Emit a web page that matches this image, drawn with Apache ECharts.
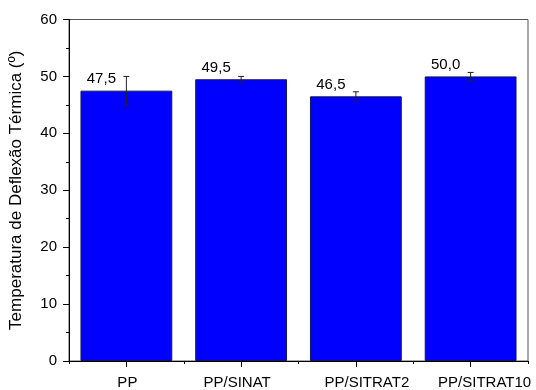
<!DOCTYPE html>
<html>
<head>
<meta charset="utf-8">
<script src="https://cdn.jsdelivr.net/npm/echarts@6/dist/echarts.min.js"></script>
<style>
  html, body { margin: 0; padding: 0; background: #fff; }
  #chart { width: 536px; height: 390px; }
</style>
</head>
<body>
<div id="chart"></div>
<script>
// Heat deflection temperature per formulation
const categories = ['PP', 'PP/SINAT', 'PP/SITRAT2', 'PP/SITRAT10'];
const hdtValues = [47.5, 49.5, 46.5, 50.0];
const hdtErrors = [2.5, 0.5, 0.8, 0.7];
const yTicks = [0, 10, 20, 30, 40, 50, 60];
// horizontal nudges of the category captions (px, right positive)
const labelShift = [1, -4, 11, 14];

const FONT = 'Liberation Sans, Arial, sans-serif';
const fmt = v => v.toFixed(1).replace('.', ',');

const chart = echarts.init(document.getElementById('chart'), null, { renderer: 'canvas' });

const errorData = hdtValues.map((v, i) => [i, v - hdtErrors[i], v + hdtErrors[i]]);
const categoryItems = categories.map((c, i) => ({
  value: c,
  textStyle: {
    padding: labelShift[i] >= 0 ? [0, 0, 0, 2 * labelShift[i]] : [0, -2 * labelShift[i], 0, 0]
  }
}));

chart.setOption({
  animation: false,
  backgroundColor: '#fff',
  grid: {
    left: 68, right: 8, top: 19.5, bottom: 29,
    show: true, borderColor: '#555', borderWidth: 1
  },
  xAxis: [{
    type: 'category',
    data: categoryItems,
    axisLine: { lineStyle: { color: '#000', width: 1 } },
    axisTick: { show: true, length: 3, interval: 0, lineStyle: { color: '#000' } },
    axisLabel: { color: '#000', fontFamily: FONT, fontSize: 15, margin: 14, interval: 0 }
  }, {
    type: 'category',
    data: categories,
    position: 'bottom',
    axisLine: { show: false },
    axisTick: { show: true, alignWithLabel: true, length: 6, lineStyle: { color: '#000' } },
    axisLabel: { show: false }
  }],
  yAxis: {
    type: 'value',
    min: yTicks[0],
    max: yTicks[yTicks.length - 1],
    interval: 10,
    name: 'Temperatura de Deflexão Térmica (º)',
    nameLocation: 'middle',
    nameGap: 44,
    nameTextStyle: { color: '#000', fontFamily: FONT, fontSize: 17 },
    axisLine: { show: true, lineStyle: { color: '#000', width: 1 } },
    axisTick: { show: true, length: 6, lineStyle: { color: '#000' } },
    minorTick: { show: true, splitNumber: 2, length: 3, lineStyle: { color: '#000' } },
    splitLine: { show: false },
    axisLabel: { color: '#000', fontFamily: FONT, fontSize: 15, margin: 12 }
  },
  series: [{
    type: 'bar',
    data: hdtValues,
    barCategoryGap: '20%',
    itemStyle: { color: '#0000FF', borderColor: '#14145a', borderWidth: 1 },
    label: {
      show: true,
      position: 'top',
      distance: 4,
      offset: [-25, 0],
      formatter: p => fmt(p.value),
      color: '#000',
      fontFamily: FONT,
      fontSize: 15
    },
    z: 2
  }, {
    type: 'custom',
    data: errorData,
    z: 3,
    renderItem: (params, api) => {
      const x = api.value(0);
      const lo = api.coord([x, api.value(1)]);
      const hi = api.coord([x, api.value(2)]);
      const cap = 3;
      const style = { stroke: '#222', lineWidth: 1 };
      return {
        type: 'group',
        children: [
          { type: 'line', shape: { x1: lo[0], y1: lo[1], x2: hi[0], y2: hi[1] }, style },
          { type: 'line', shape: { x1: hi[0] - cap, y1: hi[1], x2: hi[0] + cap, y2: hi[1] }, style },
          { type: 'line', shape: { x1: lo[0] - cap, y1: lo[1], x2: lo[0] + cap, y2: lo[1] }, style }
        ]
      };
    }
  }]
});
</script>
</body>
</html>
